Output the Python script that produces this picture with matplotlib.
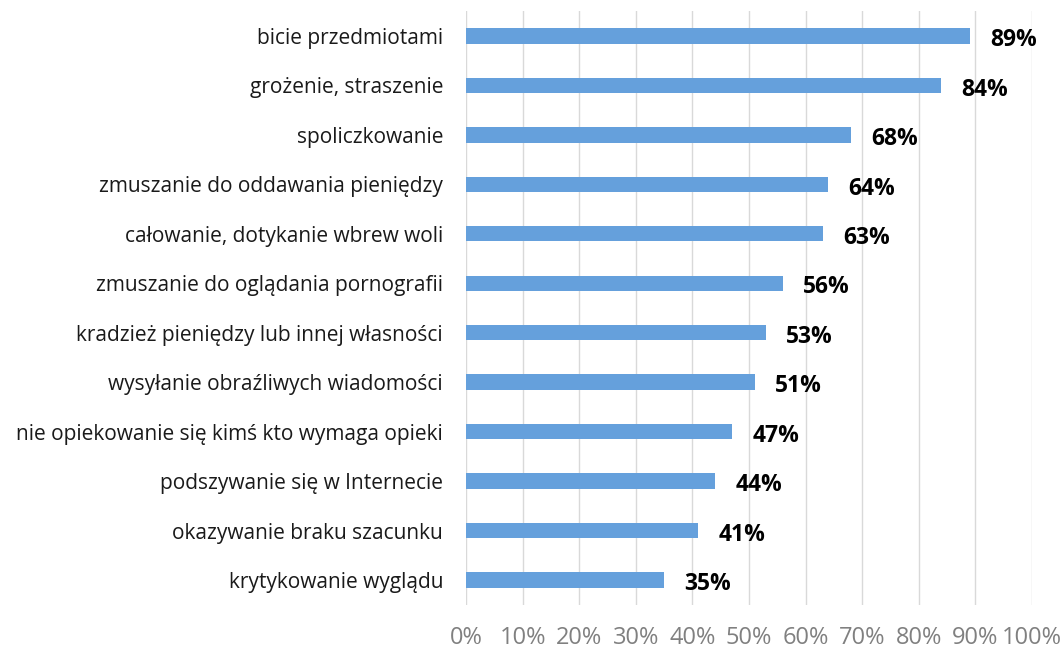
import matplotlib.pyplot as plt
from matplotlib.ticker import MultipleLocator, PercentFormatter

categories = [
    "bicie przedmiotami",
    "grożenie, straszenie",
    "spoliczkowanie",
    "zmuszanie do oddawania pieniędzy",
    "całowanie, dotykanie wbrew woli",
    "zmuszanie do oglądania pornografii",
    "kradzież pieniędzy lub innej własności",
    "wysyłanie obraźliwych wiadomości",
    "nie opiekowanie się kimś kto wymaga opieki",
    "podszywanie się w Internecie",
    "okazywanie braku szacunku",
    "krytykowanie wyglądu",
]
values = [89, 84, 68, 64, 63, 56, 53, 51, 47, 44, 41, 35]

plt.rcParams['font.family'] = ['Open Sans', 'DejaVu Sans']

fig = plt.figure(figsize=(10.63, 6.5), dpi=100)
ax = fig.add_axes([0.4384, 0.0697, 0.5325, 0.913])

ypos = list(range(len(categories)))
ax.barh(ypos, values, height=0.31, color='#65A0DC', zorder=3)

for y, v in zip(ypos, values):
    ax.annotate(f"{v}%", (v, y), xytext=(14.5, -3), textcoords='offset points',
                ha='left', va='center', fontsize=16.5, fontweight='bold',
                color='black')

ax.set_xlim(0, 100)
ax.set_ylim(len(categories) - 0.5, -0.5)
ax.set_yticks(ypos)
ax.set_yticklabels(categories, fontsize=15, color='#1a1a1a')
ax.xaxis.set_major_locator(MultipleLocator(10))
ax.xaxis.set_major_formatter(PercentFormatter(decimals=0))
ax.tick_params(axis='x', colors='#808080', labelsize=17, length=0, pad=15)
ax.tick_params(axis='y', length=0, pad=16.5)
ax.grid(axis='x', color='#d9d9d9', linewidth=1, zorder=0)
for s in ax.spines.values():
    s.set_visible(False)

fig.savefig('out.png', dpi=100)
